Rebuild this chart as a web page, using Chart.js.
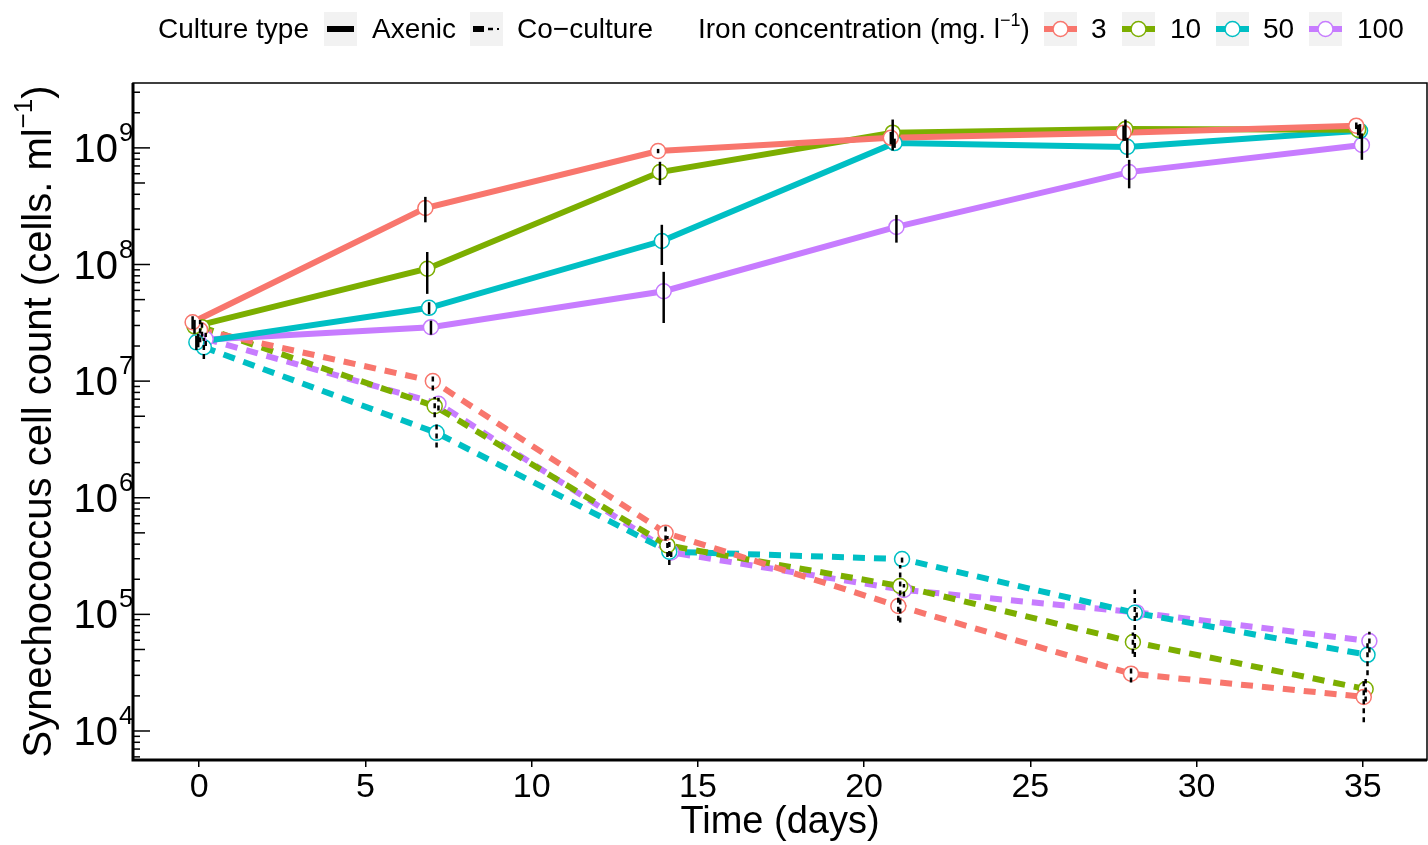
<!DOCTYPE html>
<html>
<head>
<meta charset="utf-8">
<title>Synechococcus cell count</title>
<script src="https://cdn.jsdelivr.net/npm/chart.js@4.4.1/dist/chart.umd.min.js"></script>
<style>
    html, body { margin: 0; padding: 0; background: #fff; }
    body { width: 1428px; height: 845px; position: relative; overflow: hidden;
           font-family: "Liberation Sans", Arial, Helvetica, sans-serif; color: #000; }
    #chartBox { position: absolute; left: 0; top: 0; width: 1436px; height: 845px; }
    .lg { position: absolute; top: 12px; height: 34px; line-height: 34px; font-size: 28px; white-space: nowrap; }
    .lg sup { font-size: 18px; line-height: 0; position: relative; top: -2px; }
    .key { position: absolute; top: 12px; width: 33px; height: 34px; }
</style>
</head>
<body>
<div id="chartBox"><canvas id="growthChart" width="1436" height="845"></canvas></div>

<!-- Légende (HTML, au-dessus du graphique) -->
<div class="lg" style="left:158px">Culture type</div>
<svg class="key" style="left:324px" viewBox="0 0 33 34">
    <rect width="33" height="34" fill="#f2f2f2"/>
    <line x1="3" y1="17" x2="30" y2="17" stroke="#000" stroke-width="6"/>
</svg>
<div class="lg" style="left:372px">Axenic</div>
<svg class="key" style="left:470px" viewBox="0 0 33 34">
    <rect width="33" height="34" fill="#f2f2f2"/>
    <line x1="3" y1="17" x2="14" y2="17" stroke="#000" stroke-width="6"/>
    <line x1="18" y1="17" x2="23" y2="17" stroke="#000" stroke-width="2.5"/>
    <line x1="27" y1="17" x2="29" y2="17" stroke="#000" stroke-width="2"/>
</svg>
<div class="lg" style="left:517px">Co&minus;culture</div>

<div class="lg" style="left:698px">Iron concentration (mg. l<sup>&minus;1</sup>)</div>
<div id="ironKeys"></div>

<script>
// Données
const days = [0, 7, 14, 21, 28, 35];
const xTicks = [0, 5, 10, 15, 20, 25, 30, 35];
const yDecades = [4, 5, 6, 7, 8, 9];
const ironLevels = ['3', '10', '50', '100'];
const cultureTypes = ['Axenic', 'Co\u2212culture'];

// Axénique (moyennes et écarts-types)
const axenic3 = [3.2e7, 3.05e8, 9.4e8, 1.22e9, 1.35e9, 1.55e9];
const axenic10 = [2.95e7, 9.2e7, 6.2e8, 1.35e9, 1.45e9, 1.43e9];
const axenic50 = [2.15e7, 4.25e7, 1.59e8, 1.1e9, 1.02e9, 1.4e9];
const axenic100 = [2.25e7, 2.9e7, 5.9e7, 2.1e8, 6.2e8, 1.06e9];
const axenic3Sd = [4e6, 7.5e7, 4e7, 1.5e8, 2e8, 1e8];
const axenic10Sd = [4e6, 3.6e7, 1.4e8, 4e8, 3e8, 1.5e8];
const axenic50Sd = [3e6, 5e6, 6e7, 1e8, 2e8, 2e8];
const axenic100Sd = [3e6, 4e6, 2.75e7, 5.6e7, 1.7e8, 2.7e8];

// Co-culture
const co3 = [2.75e7, 1.0e7, 5.0e5, 1.18e5, 3.1e4, 1.96e4];
const co10 = [2.9e7, 6.1e6, 3.9e5, 1.75e5, 5.8e4, 2.29e4];
const co50 = [1.95e7, 3.6e6, 3.45e5, 2.98e5, 1.03e5, 4.5e4];
const co100 = [2.3e7, 6.4e6, 3.4e5, 1.62e5, 1.04e5, 5.9e4];
const co3Sd = [6e6, 1.7e6, 7e4, 3e4, 5e3, 7.7e3];
const co10Sd = [5e6, 1.2e6, 8e4, 9e4, 1.2e4, 5e3];
const co50Sd = [4e6, 9e5, 8e4, 2e4, 6e4, 1.5e4];
const co100Sd = [3e6, 8e5, 3e4, 2e4, 1e4, 1.2e4];

// Styles
const ironColors = ['#F8766D', '#7CAE00', '#00BFC4', '#C77CFF'];
const FONT = '"Liberation Sans", Arial, Helvetica, sans-serif';
const dodgeWidth = 0.45;

const series = [
    { culture: 0, iron: 0, values: axenic3, sd: axenic3Sd },
    { culture: 0, iron: 1, values: axenic10, sd: axenic10Sd },
    { culture: 0, iron: 2, values: axenic50, sd: axenic50Sd },
    { culture: 0, iron: 3, values: axenic100, sd: axenic100Sd },
    { culture: 1, iron: 0, values: co3, sd: co3Sd },
    { culture: 1, iron: 1, values: co10, sd: co10Sd },
    { culture: 1, iron: 2, values: co50, sd: co50Sd },
    { culture: 1, iron: 3, values: co100, sd: co100Sd }
];

// Décalage horizontal (position_dodge)
function dodge(i) {
    return (i - (series.length - 1) / 2) * dodgeWidth / series.length;
}

function points(s, i) {
    return days.map((d, k) => ({ x: d + dodge(i), y: s.values[k] }));
}

// Légende des concentrations en fer
const keyLeft = [1044, 1122, 1216, 1309];
const labelLeft = [1091, 1170, 1263, 1357];
const ironKeys = document.getElementById('ironKeys');
ironLevels.forEach((lvl, i) => {
    ironKeys.insertAdjacentHTML('beforeend',
        '<svg class="key" style="left:' + keyLeft[i] + 'px" viewBox="0 0 33 34">' +
        '<rect width="33" height="34" fill="#f2f2f2"/>' +
        '<line x1="0" y1="17" x2="33" y2="17" stroke="' + ironColors[i] + '" stroke-width="6"/>' +
        '<circle cx="16.5" cy="17" r="7.5" fill="#fff" stroke="' + ironColors[i] + '" stroke-width="1.5"/></svg>' +
        '<div class="lg" style="left:' + labelLeft[i] + 'px">' + lvl + '</div>');
});

// Lignes d'abord, points ensuite (au-dessus de toutes les lignes)
const datasets = [];
series.forEach((s, i) => {
    const color = ironColors[s.iron];
    datasets.push({
        label: cultureTypes[s.culture] + ' ' + ironLevels[s.iron],
        data: points(s, i),
        borderColor: color,
        borderWidth: 6,
        borderDash: s.culture === 1 ? [12, 9] : [],
        borderCapStyle: 'butt',
        pointRadius: 0,
        fill: false,
        tension: 0,
        order: 2
    });
});
series.forEach((s, i) => {
    const color = ironColors[s.iron];
    datasets.push({
        label: 'pts',
        data: points(s, i),
        showLine: false,
        pointRadius: 7.5,
        pointBorderWidth: 1.5,
        pointBorderColor: color,
        pointBackgroundColor: '#ffffff',
        order: 1
    });
});

// Barres d'erreur, cadre, graduations logarithmiques, libellés
const decorPlugin = {
    id: 'decor',
    afterDatasetsDraw(chart) {
        const ctx = chart.ctx;
        const xs = chart.scales.x;
        const ys = chart.scales.y;
        const area = chart.chartArea;

        ctx.save();
        ctx.beginPath();
        ctx.rect(area.left, area.top, area.right - area.left, area.bottom - area.top);
        ctx.clip();
        ctx.strokeStyle = '#000';
        ctx.lineWidth = 2.5;
        series.forEach((s, i) => {
            ctx.setLineDash(s.culture === 1 ? [5, 4] : []);
            days.forEach((d, k) => {
                const px = xs.getPixelForValue(d + dodge(i));
                const lo = Math.max(s.values[k] - s.sd[k], ys.min);
                const hi = s.values[k] + s.sd[k];
                ctx.beginPath();
                ctx.moveTo(px, ys.getPixelForValue(lo));
                ctx.lineTo(px, ys.getPixelForValue(hi));
                ctx.stroke();
            });
        });
        ctx.restore();
    },
    afterDraw(chart) {
        const ctx = chart.ctx;
        const ys = chart.scales.y;
        const area = chart.chartArea;
        ctx.save();
        ctx.strokeStyle = '#000';
        ctx.setLineDash([]);

        // cadre
        ctx.lineWidth = 1.5;
        ctx.strokeRect(area.left, area.top, area.right - area.left, area.bottom - area.top);
        ctx.lineWidth = 3;
        ctx.beginPath();
        ctx.moveTo(area.left, area.top);
        ctx.lineTo(area.left, area.bottom);
        ctx.lineTo(area.right, area.bottom);
        ctx.stroke();

        // graduations log (annotation_logticks)
        ctx.lineWidth = 1.5;
        for (let d = 3; d <= 9; d++) {
            for (let m = 1; m <= 9; m++) {
                const v = m * Math.pow(10, d);
                if (v < ys.min || v > ys.max) continue;
                const py = ys.getPixelForValue(v);
                const len = m === 1 ? 17 : (m === 5 ? 12 : 7);
                ctx.beginPath();
                ctx.moveTo(area.left, py);
                ctx.lineTo(area.left + len, py);
                ctx.stroke();
            }
        }

        // libellés 10^n
        ctx.fillStyle = '#000';
        yDecades.forEach(d => {
            const py = ys.getPixelForValue(Math.pow(10, d));
            ctx.font = '40px ' + FONT;
            ctx.textAlign = 'right';
            ctx.textBaseline = 'middle';
            ctx.fillText('10', 118, py + 3);
            ctx.font = '26px ' + FONT;
            ctx.textAlign = 'left';
            ctx.textBaseline = 'alphabetic';
            ctx.fillText(String(d), 119, py - 7);
        });

        // titre de l'axe y avec exposant
        const main = 'Synechococcus cell count (cells. ml';
        const sup = '\u22121';
        const end = ')';
        ctx.font = '40px ' + FONT;
        const w1 = ctx.measureText(main).width;
        const w3 = ctx.measureText(end).width;
        ctx.font = '26px ' + FONT;
        const w2 = ctx.measureText(sup).width;
        const total = w1 + w2 + w3;
        ctx.translate(40, (area.top + area.bottom) / 2);
        ctx.rotate(-Math.PI / 2);
        ctx.textAlign = 'left';
        ctx.textBaseline = 'middle';
        let x0 = -total / 2;
        ctx.font = '40px ' + FONT;
        ctx.fillText(main, x0, 0);
        ctx.font = '26px ' + FONT;
        ctx.fillText(sup, x0 + w1, -15);
        ctx.font = '40px ' + FONT;
        ctx.fillText(end, x0 + w1 + w2, 0);
        ctx.restore();
    }
};

const growthChart = new Chart(document.getElementById('growthChart'), {
    type: 'line',
    data: { datasets: datasets },
    options: {
        responsive: false,
        animation: false,
        layout: { padding: { top: 83, right: 3, left: 0, bottom: 0 } },
        plugins: {
            legend: { display: false },
            tooltip: { enabled: false }
        },
        scales: {
            x: {
                type: 'linear',
                min: -1.99,
                max: 36.93,
                afterBuildTicks: scale => { scale.ticks = xTicks.map(v => ({ value: v })); },
                afterFit: scale => { scale.height = 85; },
                border: { display: false },
                grid: { drawOnChartArea: false, drawTicks: true, tickLength: 7, color: '#000', lineWidth: 1.5 },
                ticks: { color: '#000', font: { size: 34, family: FONT }, padding: 0, maxRotation: 0 },
                title: { display: true, text: 'Time (days)', color: '#000', font: { size: 38, family: FONT }, padding: { top: -4, bottom: 0 } }
            },
            y: {
                type: 'logarithmic',
                min: 5.64e3,
                max: 3.6e9,
                afterFit: scale => { scale.width = 133; },
                border: { display: false },
                grid: { display: false },
                ticks: { display: false }
            }
        }
    },
    plugins: [decorPlugin]
});
</script>
</body>
</html>
